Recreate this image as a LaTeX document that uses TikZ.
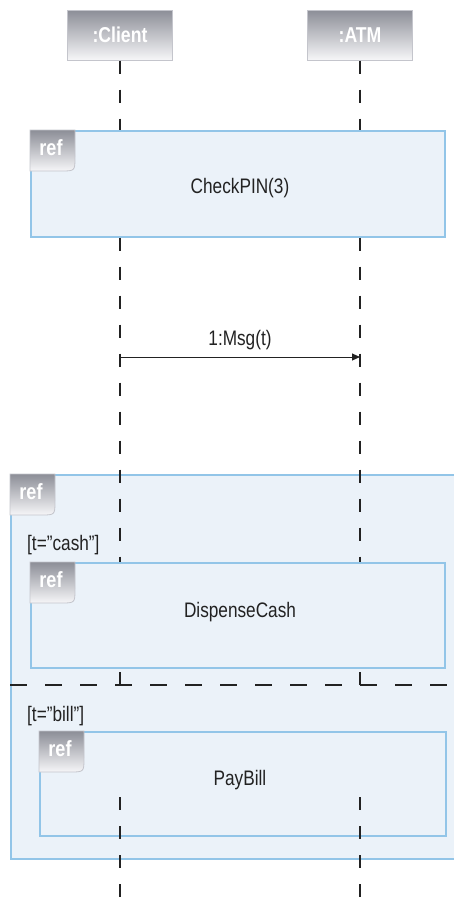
\documentclass[tikz,border=0pt]{standalone}
\usepackage{fontspec}
\setmainfont{Liberation Sans}[FakeStretch=0.82]
\usetikzlibrary{arrows.meta,positioning}

\definecolor{framebd}{HTML}{92C5E8}
\definecolor{framebg}{HTML}{EBF2F9}
\definecolor{headtop}{HTML}{8C8E97}
\definecolor{headbot}{HTML}{F6F6F8}
\definecolor{headbd}{HTML}{C4C5CC}
\definecolor{ink}{HTML}{222222}

\tikzset{
  lifehead/.style={rectangle, draw=headbd, line width=1pt, top color=headtop, bottom color=headbot,
    minimum width=105pt, minimum height=50pt, text=white, font=\fontsize{21.5}{24}\selectfont\bfseries},
  refbox/.style={rectangle, draw=framebd, fill=framebg, line width=1.5pt, anchor=north west, inner sep=0pt},
  reftab/.style={draw=headbd, line width=0.8pt, top color=headtop, bottom color=headbot},
  reftext/.style={text=white, font=\fontsize{22}{24}\selectfont\bfseries},
  lifeline/.style={draw=ink, line width=1.3pt, dash pattern=on 13pt off 16pt},
  msgline/.style={draw=ink, line width=1pt, -{Triangle[length=8pt,width=7pt]}},
  msgtext/.style={text=ink, font=\fontsize{21}{24}\selectfont},
  guard/.style={text=ink, anchor=west, inner sep=0pt, font=\fontsize{21}{24}\selectfont},
  sepline/.style={draw=ink, line width=1.3pt, dash pattern=on 17pt off 18pt},
}

% the grey "ref" corner of a frame
\newcommand{\reftag}[2]{%
  \path[reftab] (#1,#2) -- (#1+45,#2) -- (#1+45,#2+27)
    .. controls (#1+45,#2+41) .. (#1+31,#2+41) -- (#1,#2+41) -- cycle;
  \node[reftext] at (#1+21,#2+18) {ref};
}

\begin{document}
\begin{tikzpicture}[x=1pt,y=-1pt]
  \useasboundingbox (0,0) rectangle (453,897);

  \node[lifehead] (client) at (120,35) {:Client};
  \node[lifehead] (atm) at (360,35) {:ATM};

  % ref CheckPIN
  \node[refbox, minimum width=414pt, minimum height=106pt] (chk) at (30,130) {};
  \reftag{30}{130}
  \node[msgtext] (chktext) at (240,188) {CheckPIN(3)};

  % alt frame with two refs
  \node[refbox, minimum width=470pt, minimum height=384pt] (alt) at (10,474) {};
  \reftag{10}{474}
  \node[guard] (g1) at (27,545) {[t=”cash”]};
  \node[refbox, minimum width=414pt, minimum height=105pt] (dsp) at (30,562) {};
  \reftag{30}{562}
  \node[msgtext] (dsptext) at (240,612) {DispenseCash};
  \coordinate (sep) at (10,685);
  \draw[sepline] (sep) -- ++(450,0);
  \node[guard] (g2) at (27,716) {[t=”bill”]};
  \node[refbox, minimum width=406pt, minimum height=104pt] (pb) at (39,731) {};
  \reftag{39}{731}
  \node[msgtext] (pbtext) at (240,780) {PayBill};

  % lifelines
  \coordinate (pbin) at (0,797);
  \coordinate (bottom) at (0,897);
  \foreach \who in {client,atm} {
    \draw[lifeline] (\who.south) -- (\who |- chk.north);
    \draw[lifeline] (\who |- chk.south) -- (\who |- dsp.north);
    \draw[lifeline] (\who |- sep) -- (\who |- dsp.south);
    \draw[lifeline] (\who |- pbin) -- (\who |- bottom);
  }

  % message
  \coordinate (msg) at (0,357);
  \draw[msgline] (client |- msg) -- (atm |- msg)
    node[midway, above=3pt, msgtext] {1:Msg(t)};
\end{tikzpicture}
\end{document}
